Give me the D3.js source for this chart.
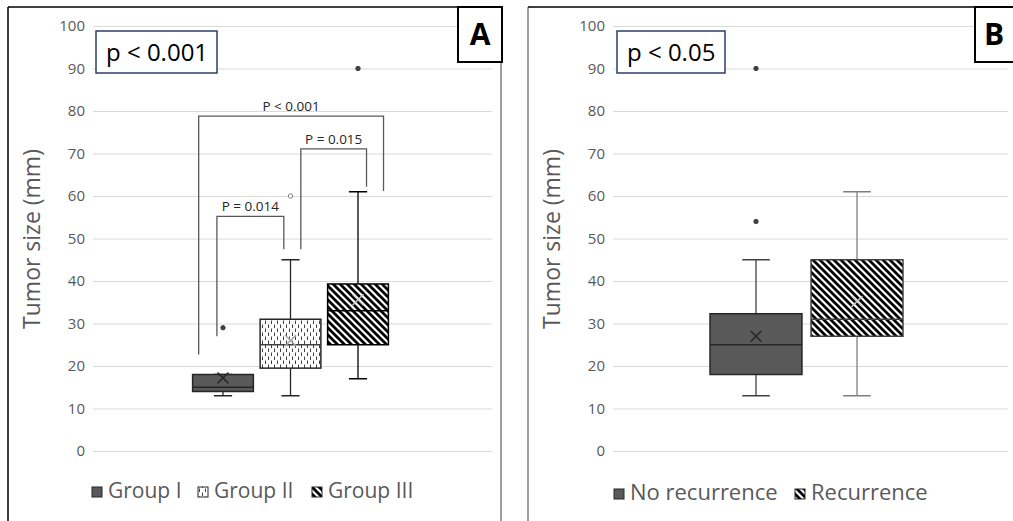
<!DOCTYPE html>
<html>
<head>
<meta charset="utf-8">
<script src="https://cdn.jsdelivr.net/npm/d3@7"></script>
<style>
  body { margin: 0; background: #fff; }
  svg { display: block; font-family: "Open Sans", sans-serif; }
</style>
</head>
<body>
<svg id="chart" width="1013" height="521"></svg>
<script>
// ---- data ----
var yTicks = [0, 10, 20, 30, 40, 50, 60, 70, 80, 90, 100];

var groupsA = ["Group I", "Group II", "Group III"];
var lowA    = [13, 13, 17];
var q1A     = [14, 19.5, 25];
var medA    = [15, 25, 33];
var q3A     = [18, 31, 39.3];
var highA   = [18, 45, 61];
var meanA   = [17.2, 26, 35.6];
var outA    = [[29], [60], [90]];

var groupsB = ["No recurrence", "Recurrence"];
var lowB    = [13, 13];
var q1B     = [18, 27];
var medB    = [25, 31];
var q3B     = [32.3, 45];
var highB   = [45, 61];
var meanB   = [27, 35.2];
var outB    = [[54, 90], []];

// significance brackets (values in mm)
var bracketPairs  = [[0, 2], [0, 1], [1, 2]];
var bracketTop    = [78.8, 55.2, 71.1];
var bracketLeft   = [22.7, 27, 47.5];
var bracketRight  = [61.2, 47.5, 62.2];
var bracketLabels = ["P < 0.001", "P = 0.014", "P = 0.015"];

var svg = d3.select("#chart");

// ---- patterns ----
var defs = svg.append("defs");
var diag = defs.append("pattern")
    .attr("id", "diag")
    .attr("patternUnits", "userSpaceOnUse")
    .attr("width", 7).attr("height", 7);
diag.append("rect").attr("width", 7).attr("height", 7).attr("fill", "#fff");
diag.append("path")
    .attr("d", "M-1,-1 L8,8 M-1,6 L1,8 M6,-1 L8,1")
    .attr("stroke", "#000")
    .attr("stroke-width", 2.8);

var dash = defs.append("pattern")
    .attr("id", "dashv")
    .attr("patternUnits", "userSpaceOnUse")
    .attr("width", 6).attr("height", 8);
dash.append("rect").attr("width", 6).attr("height", 8).attr("fill", "#fff");
dash.append("path")
    .attr("d", "M1.5,0.5 V4 M4.5,4.5 V8")
    .attr("stroke", "#404040")
    .attr("stroke-width", 1);

var y = d3.scaleLinear().domain([0, 100]).range([451, 26]);

// series looks
var styleA = [
  {fill: "#595959", stroke: "#262626", whisker: "#262626", median: "#262626", mean: "#262626", outFill: "#404040", outStroke: "#404040"},
  {fill: "url(#dashv)", stroke: "#262626", whisker: "#262626", median: "#404040", mean: "#a6a6a6", outFill: "#fff", outStroke: "#7f7f7f"},
  {fill: "url(#diag)", stroke: "#000", whisker: "#000", median: "#000", mean: "#c8c8c8", outFill: "#404040", outStroke: "#404040"}
];
var styleB = [
  {fill: "#595959", stroke: "#262626", whisker: "#404040", median: "#262626", mean: "#262626", outFill: "#404040", outStroke: "#404040"},
  {fill: "url(#diag)", stroke: "#404040", whisker: "#7f7f7f", median: "#404040", mean: "#c8c8c8", outFill: "#404040", outStroke: "#404040"}
];

function drawPanel(p) {
  var g = svg.append("g");

  // frame
  g.append("line").attr("x1", p.frameLeft).attr("x2", p.frameLeft)
    .attr("y1", 7).attr("y2", 521)
    .attr("stroke", p.leftColor).attr("stroke-width", 1.5);
  g.append("line").attr("x1", p.frameLeft).attr("x2", p.tagX)
    .attr("y1", 7).attr("y2", 7)
    .attr("stroke", "#000").attr("stroke-width", 1.5);
  if (p.frameRight) {
    g.append("line").attr("x1", p.frameRight).attr("x2", p.frameRight)
      .attr("y1", 62).attr("y2", 521)
      .attr("stroke", "#7f7f7f").attr("stroke-width", 1.5);
  }

  // gridlines + tick labels
  var axis = g.append("g")
    .attr("transform", "translate(" + p.left + ",0)")
    .call(d3.axisLeft(y).tickValues(yTicks).tickSize(-(p.right - p.left)).tickPadding(8));
  axis.select(".domain").remove();
  axis.selectAll("line").attr("stroke", "#d9d9d9");
  axis.selectAll("text")
    .attr("fill", "#595959")
    .style("font-size", "15px")
    .style("font-family", "'Open Sans', sans-serif");

  // axis title
  g.append("text")
    .attr("transform", "translate(" + p.titleX + ",239) rotate(-90)")
    .attr("text-anchor", "middle")
    .attr("dominant-baseline", "central")
    .attr("fill", "#595959")
    .style("font-size", "23px")
    .text("Tumor size (mm)");

  var x = d3.scaleBand().domain(p.groups)
    .range([p.bandLeft, p.bandRight])
    .paddingInner(p.padIn).paddingOuter(p.padOut);
  var bw = x.bandwidth();
  var cap = bw * 0.3;

  p.groups.forEach(function(name, i) {
    var s = p.style[i];
    var cx = x(name) + bw / 2;
    var gb = g.append("g");
    // whiskers
    gb.append("line").attr("x1", cx).attr("x2", cx)
      .attr("y1", y(p.high[i])).attr("y2", y(p.q3[i]))
      .attr("stroke", s.whisker).attr("stroke-width", 1.3);
    gb.append("line").attr("x1", cx).attr("x2", cx)
      .attr("y1", y(p.q1[i])).attr("y2", y(p.low[i]))
      .attr("stroke", s.whisker).attr("stroke-width", 1.3);
    [p.high[i], p.low[i]].forEach(function(v) {
      gb.append("line").attr("x1", cx - cap / 2).attr("x2", cx + cap / 2)
        .attr("y1", y(v)).attr("y2", y(v))
        .attr("stroke", s.whisker).attr("stroke-width", 1.5);
    });
    // box
    gb.append("rect")
      .attr("x", x(name)).attr("width", bw)
      .attr("y", y(p.q3[i])).attr("height", y(p.q1[i]) - y(p.q3[i]))
      .attr("fill", s.fill).attr("stroke", s.stroke).attr("stroke-width", 1.5);
    gb.append("line").attr("x1", x(name)).attr("x2", x(name) + bw)
      .attr("y1", y(p.med[i])).attr("y2", y(p.med[i]))
      .attr("stroke", s.median).attr("stroke-width", 1.5);
    // mean
    gb.append("path")
      .attr("transform", "translate(" + cx + "," + y(p.mean[i]) + ")")
      .attr("d", d3.symbol(d3.symbolX, 80)())
      .attr("fill", "none")
      .attr("stroke", s.mean).attr("stroke-width", 1.5);
    // outliers
    gb.selectAll("circle").data(p.out[i]).join("circle")
      .attr("cx", cx).attr("cy", function(d) { return y(d); })
      .attr("r", 2.2)
      .attr("fill", s.outFill).attr("stroke", s.outStroke).attr("stroke-width", 1);
  });

  // brackets
  if (p.brackets) {
    var fr = [[0.1, 0.92], [0.4, 0.39], [0.67, 0.64]];
    bracketPairs.forEach(function(pair, k) {
      var xa = x(p.groups[pair[0]]) + fr[k][0] * bw;
      var xb = x(p.groups[pair[1]]) + fr[k][1] * bw;
      g.append("path")
        .attr("d", "M" + xa + "," + y(bracketLeft[k]) + " V" + y(bracketTop[k]) +
                   " H" + xb + " V" + y(bracketRight[k]))
        .attr("fill", "none").attr("stroke", "#595959").attr("stroke-width", 1.3);
      g.append("text")
        .attr("x", (xa + xb) / 2).attr("y", y(bracketTop[k]) - 5)
        .attr("text-anchor", "middle")
        .attr("fill", "#262626")
        .style("font-size", "13.5px")
        .text(bracketLabels[k]);
    });
  }

  // p-value box
  g.append("rect").attr("x", p.pBox[0]).attr("y", 31)
    .attr("width", p.pBox[1]).attr("height", 42)
    .attr("fill", "#fff").attr("stroke", "#2f3d6b").attr("stroke-width", 1.5);
  g.append("text").attr("x", p.pBox[0] + 10).attr("y", 61)
    .attr("fill", "#000").style("font-size", "24px")
    .text(p.pText);

  // panel tag
  g.append("rect").attr("x", p.tagX).attr("y", 7)
    .attr("width", 44).attr("height", 55)
    .attr("fill", "#fff").attr("stroke", "#000").attr("stroke-width", 2);
  g.append("text").attr("x", p.tagX + 22 + p.tagShift).attr("y", 45)
    .attr("text-anchor", "middle")
    .attr("fill", "#000")
    .style("font-size", "30px").style("font-weight", "bold")
    .text(p.tag);

  // legend
  p.groups.forEach(function(name, i) {
    var lx = p.legendX[i];
    g.append("rect").attr("x", lx).attr("y", p.legendY - 11)
      .attr("width", 10).attr("height", 10)
      .attr("fill", p.style[i].fill).attr("stroke", "#262626").attr("stroke-width", 1);
    g.append("text").attr("x", lx + 16).attr("y", p.legendY)
      .attr("fill", "#595959").style("font-size", p.legendSize)
      .text(name);
  });
}

drawPanel({
  groups: groupsA, low: lowA, q1: q1A, med: medA, q3: q3A, high: highA, mean: meanA, out: outA,
  style: styleA, left: 93, right: 492, bandLeft: 91, bandRight: 490, padIn: 0.1, padOut: 1.505,
  frameLeft: 8, frameRight: 501, leftColor: "#000", titleX: 31, tag: "A", tagX: 458, tagShift: 0,
  pBox: [96, 121], pText: "p < 0.001", brackets: true,
  legendX: [92, 198, 312], legendY: 498, legendSize: "21px"
});

drawPanel({
  groups: groupsB, low: lowB, q1: q1B, med: medB, q3: q3B, high: highB, mean: meanB, out: outB,
  style: styleB, left: 613, right: 1008, bandLeft: 609, bandRight: 1004, padIn: 0.09, padOut: 1.0,
  frameLeft: 528, frameRight: null, leftColor: "#7f7f7f", titleX: 551, tag: "B", tagX: 975, tagShift: -3,
  pBox: [617, 108], pText: "p < 0.05", brackets: false,
  legendX: [614, 795], legendY: 500, legendSize: "22px"
});
</script>
</body>
</html>
